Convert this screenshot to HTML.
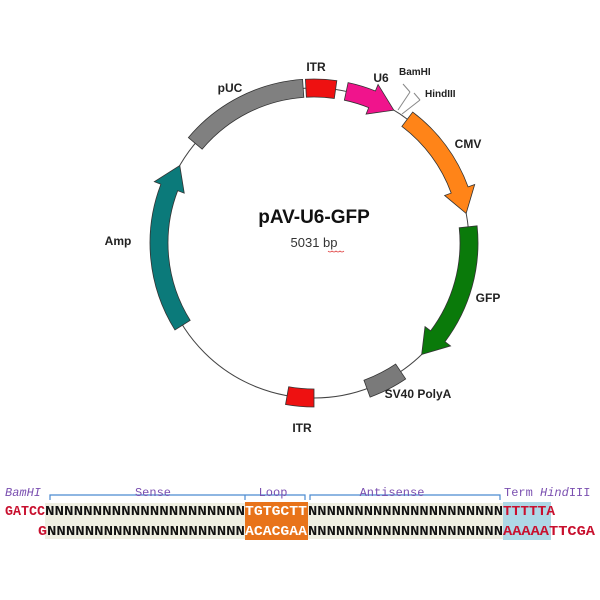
<!DOCTYPE html>
<html><head><meta charset="utf-8"><style>
body{margin:0;background:#fff;width:600px;height:600px;overflow:hidden}
svg{display:block}
.l{font-family:"Liberation Sans",Arial,sans-serif;font-size:12px;font-weight:bold;fill:#222}
.m{font-family:"Liberation Mono","Courier New",monospace;font-weight:bold;font-size:14px}
.p{font-family:"Liberation Mono",monospace;font-size:12px;fill:#7a4fb0}
</style></head><body>
<svg id="s" width="600" height="600" viewBox="0 0 600 600" xmlns="http://www.w3.org/2000/svg">
<circle cx="314" cy="243" r="155" fill="none" stroke="#444" stroke-width="1"/>
<g id="f"></g>
<line x1="398" y1="110" x2="410" y2="92" stroke="#888"/><line x1="410" y1="92" x2="403" y2="84" stroke="#888"/>
<line x1="402" y1="114" x2="420" y2="100" stroke="#888"/><line x1="420" y1="100" x2="414" y2="93" stroke="#888"/>
<text class="l" x="230" y="92" text-anchor="middle">pUC</text>
<text class="l" x="316" y="71" text-anchor="middle">ITR</text>
<text class="l" x="381" y="82" text-anchor="middle">U6</text>
<text class="l" x="399" y="75" style="font-size:10px">BamHI</text>
<text class="l" x="425" y="97" style="font-size:10px">HindIII</text>
<text class="l" x="468" y="148" text-anchor="middle">CMV</text>
<text class="l" x="488" y="302" text-anchor="middle">GFP</text>
<text class="l" x="418" y="398" text-anchor="middle">SV40 PolyA</text>
<text class="l" x="302" y="432" text-anchor="middle">ITR</text>
<text class="l" x="118" y="245" text-anchor="middle">Amp</text>
<text x="314" y="223" text-anchor="middle" style="font-family:'Liberation Sans',sans-serif;font-weight:bold;font-size:19px;fill:#111">pAV-U6-GFP</text>
<text x="314" y="247" text-anchor="middle" style="font-family:'Liberation Sans',sans-serif;font-size:13px;fill:#333">5031 bp</text>
<path d="M328 251 q2 2 4 0 q2 2 4 0 q2 2 4 0 q2 2 4 0" fill="none" stroke="#d33" stroke-width="0.8"/>
<rect x="45" y="503" width="200" height="36" fill="#efefe2"/>
<rect x="308" y="503" width="195" height="36" fill="#efefe2"/>
<rect x="245" y="502" width="63" height="38" fill="#e8731a"/>
<rect x="503" y="502" width="48" height="38" fill="#aed8e6"/>
<path d="M50 500 V495 H245 V500 M245 500 V495 H305 V500 M310 500 V495 H500 V500" fill="none" stroke="#4a8ad0" stroke-width="1.2"/>
<text class="p" x="5" y="496" font-style="italic">BamHI</text>
<text class="p" x="153" y="496" text-anchor="middle">Sense</text>
<text class="p" x="273" y="496" text-anchor="middle">Loop</text>
<text class="p" x="392" y="496" text-anchor="middle">Antisense</text>
<text class="p" x="504" y="496">Term <tspan font-style="italic">Hind</tspan>III</text>
<text class="m" x="5" y="515" fill="#c8102e" textLength="40" lengthAdjust="spacingAndGlyphs">GATCC</text>
<text class="m" x="45" y="515" fill="#111" textLength="200" lengthAdjust="spacingAndGlyphs">NNNNNNNNNNNNNNNNNNNNN</text>
<text class="m" x="245" y="515" fill="#fff" textLength="62" lengthAdjust="spacingAndGlyphs">TGTGCTT</text>
<text class="m" x="308" y="515" fill="#111" textLength="195" lengthAdjust="spacingAndGlyphs">NNNNNNNNNNNNNNNNNNNNN</text>
<text class="m" x="503" y="515" fill="#c8102e" textLength="52" lengthAdjust="spacingAndGlyphs">TTTTTA</text>
<text class="m" x="38" y="535" fill="#c8102e" textLength="9" lengthAdjust="spacingAndGlyphs">G</text>
<text class="m" x="47" y="535" fill="#111" textLength="198" lengthAdjust="spacingAndGlyphs">NNNNNNNNNNNNNNNNNNNNN</text>
<text class="m" x="245" y="535" fill="#fff" textLength="62" lengthAdjust="spacingAndGlyphs">ACACGAA</text>
<text class="m" x="308" y="535" fill="#111" textLength="195" lengthAdjust="spacingAndGlyphs">NNNNNNNNNNNNNNNNNNNNN</text>
<text class="m" x="503" y="535" fill="#c8102e" textLength="92" lengthAdjust="spacingAndGlyphs">AAAAATTCGA</text>
</svg>
<script>
var cx=314,cy=243,R=155,w=9;
function pt(a,r){var t=a*Math.PI/180;return [cx+r*Math.sin(t),cy-r*Math.cos(t)];}
function seg(a1,a2,col,arrow){
 var ro=R+w,ri=R-w,d,p;
 var end=arrow?a2-9:a2;
 var o1=pt(a1,ro),o2=pt(end,ro),i2=pt(end,ri),i1=pt(a1,ri);
 var lg=(end-a1)>180?1:0;
 d="M"+o1+" A"+ro+" "+ro+" 0 "+lg+" 1 "+o2;
 if(arrow){var e1=pt(end,ro+7),tip=pt(a2,R),e2=pt(end,ri-7);d+=" L"+e1+" L"+tip+" L"+e2+" L"+i2;}
 else d+=" L"+i2;
 d+=" A"+ri+" "+ri+" 0 "+lg+" 0 "+i1+" Z";
 p=document.createElementNS("http://www.w3.org/2000/svg","path");
 p.setAttribute("d",d);p.setAttribute("fill",col);p.setAttribute("stroke","#333");p.setAttribute("stroke-width","0.8");
 document.getElementById("f").appendChild(p);
}
seg(-50,-4,"#808080");
seg(-3,8,"#ee1111");
seg(12,31,"#f0148c",1);
seg(37,79,"#ff8418",1);
seg(84,136,"#0a7a0a",1);
seg(146,160,"#7a7a7a");
seg(180,190,"#ee1111");
seg(238,300,"#0b7a7a",1);
</script>
</body></html>
